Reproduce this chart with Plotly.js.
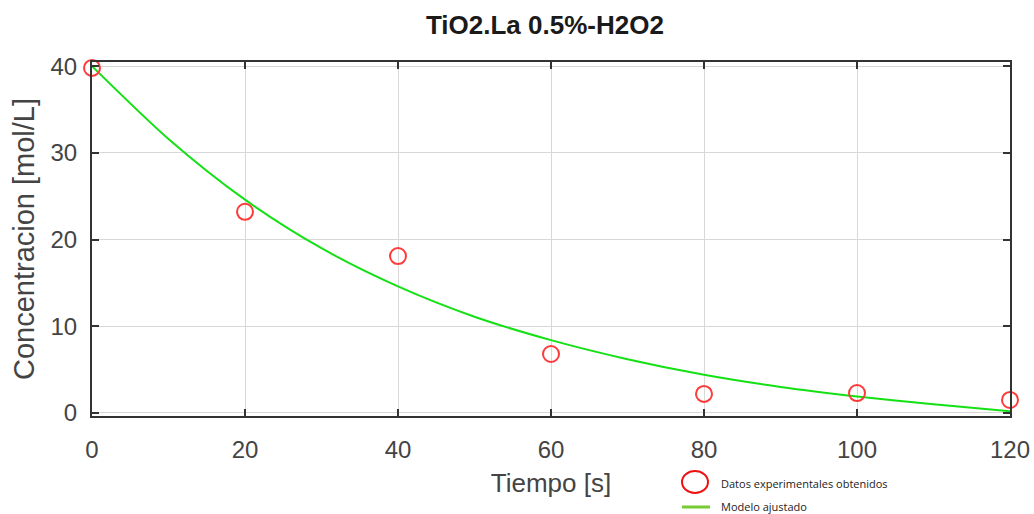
<!DOCTYPE html>
<html>
<head>
<meta charset="utf-8">
<script src="https://cdn.plot.ly/plotly-3.0.1.min.js"></script>
<style>html,body{margin:0;padding:0;background:#fff;}#chart{width:1034px;height:514px;}</style>
</head>
<body>
<div id="chart"></div>
<script>
// Experimental data
const tiempoExp = [0, 20, 40, 60, 80, 100, 120];
const concExp = [39.8, 23.2, 18.1, 6.8, 2.2, 2.3, 1.5];
// Fitted model
const tiempoModelo = [0, 10, 20, 30, 40, 50, 60, 70, 80, 90, 100, 110, 120];
const concModelo = [40, 31.6, 24.6, 19.0, 14.6, 11.1, 8.4, 6.2, 4.4, 3.0, 1.9, 1.0, 0.2];
const xTicks = [0, 20, 40, 60, 80, 100, 120];
const yTicks = [0, 10, 20, 30, 40];
const legendLabels = ["Datos experimentales obtenidos", "Modelo ajustado"];

const W = 1034, H = 514;
const M = {l: 92, r: 24, t: 62, b: 98};
const pw = W - M.l - M.r, ph = H - M.t - M.b;
const px = x => (x - M.l) / pw;
const py = y => (H - M.b - y) / ph;

const traces = [
  {x: tiempoModelo, y: concModelo, type: 'scatter', mode: 'lines',
   line: {color: '#14e014', width: 2, shape: 'spline', smoothing: 0.8},
   showlegend: false, cliponaxis: false, hoverinfo: 'skip'},
  {x: tiempoExp, y: concExp, type: 'scatter', mode: 'markers',
   marker: {symbol: 'circle-open', size: 16, color: '#ff3a3a', line: {width: 2, color: '#ff3a3a'}},
   showlegend: false, cliponaxis: false}
];

const tickFont = {family: 'Liberation Sans, Arial', size: 24, color: '#444'};
const layout = {
  width: W, height: H,
  margin: M,
  paper_bgcolor: '#fff', plot_bgcolor: '#fff',
  showlegend: false,
  title: {text: 'TiO2.La 0.5%-H2O2', x: 0.527, xanchor: 'center', y: 0.952, yanchor: 'middle',
          font: {family: 'Liberation Sans Narrow, Arial Narrow, Liberation Sans, Arial', size: 26, color: '#1a1a1a', weight: 'bold'}},
  xaxis: {
    range: [0, 120], tickvals: xTicks,
    showgrid: true, gridcolor: '#d8d8d8', gridwidth: 1, zeroline: false,
    showline: true, linecolor: '#333', linewidth: 2, mirror: 'ticks',
    ticks: 'inside', ticklen: 7, tickcolor: '#333', tickwidth: 2,
    ticklabelstandoff: 11, tickfont: tickFont,
    title: {text: 'Tiempo [s]', standoff: 12, font: {family: 'Liberation Sans, Arial', size: 26, color: '#444'}}
  },
  yaxis: {
    range: [-0.35, 40.48], tickvals: yTicks,
    showgrid: true, gridcolor: '#d8d8d8', gridwidth: 1, zeroline: false,
    showline: true, linecolor: '#333', linewidth: 2, mirror: 'ticks',
    ticks: 'inside', ticklen: 7, tickcolor: '#333', tickwidth: 2,
    ticklabelstandoff: 8, tickfont: tickFont,
    title: {text: 'Concentracion [mol/L]', standoff: 7, font: {family: 'Liberation Sans, Arial', size: 29, color: '#444'}}
  },
  shapes: [
    {type: 'circle', xref: 'paper', yref: 'paper', x0: px(682), x1: px(708), y0: py(493), y1: py(471),
     line: {color: '#ee1111', width: 2}, fillcolor: 'rgba(0,0,0,0)'},
    {type: 'line', xref: 'paper', yref: 'paper', x0: px(682), x1: px(710), y0: py(507), y1: py(507),
     line: {color: '#77cc33', width: 3}}
  ],
  annotations: [
    {text: legendLabels[0], xref: 'paper', yref: 'paper', x: px(719), y: py(483), xanchor: 'left', yanchor: 'middle',
     showarrow: false, font: {family: 'Open Sans, Noto Sans, sans-serif', size: 11, color: '#222'}},
    {text: legendLabels[1], xref: 'paper', yref: 'paper', x: px(719), y: py(507), xanchor: 'left', yanchor: 'middle',
     showarrow: false, font: {family: 'Open Sans, Noto Sans, sans-serif', size: 11, color: '#222'}}
  ]
};

Plotly.newPlot('chart', traces, layout, {staticPlot: true, displayModeBar: false});
</script>
</body>
</html>
